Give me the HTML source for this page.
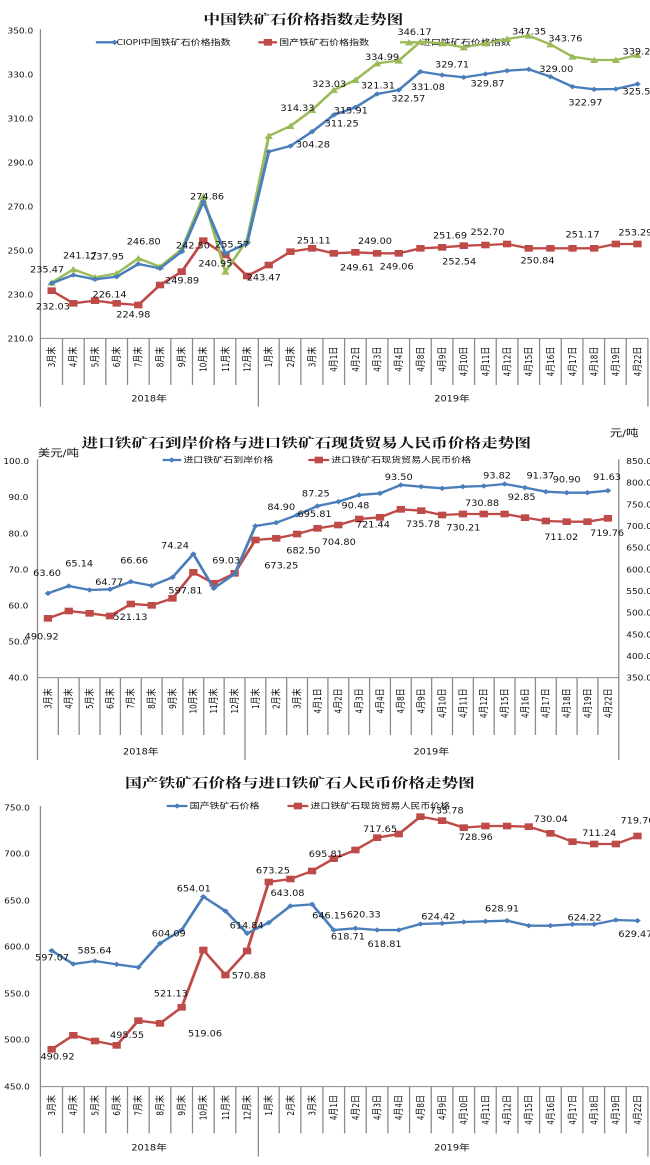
<!DOCTYPE html>
<html><head><meta charset="utf-8"><style>
body{margin:0;background:#fff;width:650px;height:1165px;overflow:hidden;position:relative}
svg{display:block;position:absolute;left:0}
text{font-family:"Liberation Sans Narrow","DejaVu Sans Condensed","Liberation Sans","Noto Sans CJK SC",sans-serif;fill:#111}
.t{font-family:"Liberation Serif","Noto Serif CJK SC","Noto Sans CJK SC",serif;font-weight:bold;font-size:40px;text-anchor:middle}
.l{font-size:26px;text-anchor:middle}
.k{font-size:24px}
.c{font-size:24px;text-anchor:end}
.ax{stroke:#888;stroke-width:3;fill:none}
.b{stroke:#4a7ebb;stroke-width:7;fill:none;marker-start:url(#md);marker-mid:url(#md);marker-end:url(#md)}
.r{stroke:#be4b48;stroke-width:7;fill:none;marker-start:url(#ms);marker-mid:url(#ms);marker-end:url(#ms)}
.g{stroke:#9bbb59;stroke-width:7;fill:none;marker-start:url(#mt);marker-mid:url(#mt);marker-end:url(#mt)}
</style></head><body>
<svg width="0" height="0" style="position:absolute"><defs>
<marker id="md" markerUnits="userSpaceOnUse" markerWidth="20" markerHeight="20" refX="10" refY="10"><path d="M10 2L18 10L10 18L2 10Z" fill="#4a7ebb"/></marker>
<marker id="ms" markerUnits="userSpaceOnUse" markerWidth="24" markerHeight="24" refX="12" refY="12"><rect x="2" y="2" width="20" height="20" fill="#be4b48"/></marker>
<marker id="mt" markerUnits="userSpaceOnUse" markerWidth="24" markerHeight="24" refX="12" refY="12"><path d="M12 2L22 21L2 21Z" fill="#9bbb59"/></marker>
</defs></svg>

<!-- Chart 1 -->
<svg style="top:0" width="650" height="420" viewBox="0 0 1560 1260" preserveAspectRatio="none">
<text class="t" x="728" y="72">中国铁矿石价格指数走势图</text>
<path class="ax" d="M97 88V1220M97 1015H1555M620 1155V1220M1555 1015V1220"/>
<path class="ax" d="M150 1015V1155M202 1015V1155M254 1015V1155M306 1015V1155M358 1015V1155M410 1015V1155M462 1015V1155M514 1015V1155M566 1015V1155M620 1015V1155M670 1015V1155M722 1015V1155M775 1015V1155M827 1015V1155M879 1015V1155M931 1015V1155M983 1015V1155M1035 1015V1155M1087 1015V1155M1139 1015V1155M1191 1015V1155M1243 1015V1155M1295 1015V1155M1347 1015V1155M1399 1015V1155M1451 1015V1155M1503 1015V1155"/>
<g class="k"><text x="18" y="100">350.0</text><text x="18" y="232">330.0</text><text x="18" y="364">310.0</text><text x="18" y="496">290.0</text><text x="18" y="628">270.0</text><text x="18" y="760">250.0</text><text x="18" y="892">230.0</text><text x="18" y="1024">210.0</text></g>
<path d="M230 127H275" stroke="#4a7ebb" stroke-width="7" marker-end="url(#md)"/><text class="k" x="280" y="135">CIOPI中国铁矿石价格指数</text>
<path d="M620 127H665" stroke="#be4b48" stroke-width="7"/><rect x="633" y="117" width="20" height="20" fill="#be4b48"/><text class="k" x="670" y="135">国产铁矿石价格指数</text>
<path d="M960 127H1005" stroke="#9bbb59" stroke-width="7"/><path d="M982 117L992 136L972 136Z" fill="#9bbb59"/><text class="k" x="1010" y="135">进口铁矿石价格指数</text>
<polyline class="r" points="124,872 176,910 228,902 280,910 332,915 384,855 436,815 488,722 541,765 593,828 645,795 697,755 749,745 801,760 853,757 905,760 957,760 1009,745 1061,742 1113,737 1165,735 1217,732 1269,745 1321,745 1374,745 1426,745 1478,732 1530,732"/>
<polyline class="g" points="124,848 176,808 228,832 280,820 332,775 384,800 436,748 488,590 541,815 593,720 645,408 697,378 749,330 801,270 853,240 905,190 957,182 1009,125 1061,130 1113,142 1165,130 1217,117 1269,107 1321,133 1374,170 1426,180 1478,180 1530,165"/>
<polyline class="b" points="124,850 176,825 228,838 280,830 332,792 384,805 436,755 488,605 541,760 593,730 645,455 697,438 749,395 801,345 853,322 905,282 957,270 1009,215 1061,225 1113,232 1165,222 1217,212 1269,208 1321,230 1374,260 1426,268 1478,267 1530,252"/>
<g class="l">
<text x="995" y="105">346.17</text><text x="1270" y="103">347.35</text><text x="1357" y="125">343.76</text><text x="1535" y="163">339.24</text><text x="917" y="180">334.99</text><text x="790" y="261">323.03</text><text x="714" y="333">314.33</text><text x="497" y="598">274.86</text><text x="345" y="733">246.80</text><text x="257" y="778">237.95</text><text x="192" y="776">241.17</text><text x="113" y="818">235.47</text><text x="463" y="745">242.50</text><text x="557" y="743">255.57</text><text x="517" y="800">240.95</text>
<text x="1085" y="203">329.71</text><text x="1335" y="216">329.00</text><text x="907" y="265">321.31</text><text x="1027" y="270">331.08</text><text x="1170" y="260">329.87</text><text x="980" y="305">322.57</text><text x="1535" y="283">325.58</text><text x="1405" y="316">322.97</text><text x="842" y="341">315.91</text><text x="820" y="380">311.25</text><text x="751" y="443">304.28</text>
<text x="753" y="730">251.11</text><text x="900" y="732">249.00</text><text x="1080" y="715">251.69</text><text x="1170" y="705">252.70</text><text x="1398" y="713">251.17</text><text x="1525" y="706">253.29</text><text x="857" y="811">249.61</text><text x="952" y="808">249.06</text><text x="1102" y="793">252.54</text><text x="1290" y="791">250.84</text><text x="633" y="841">243.47</text><text x="263" y="893">226.14</text><text x="127" y="928">232.03</text><text x="320" y="953">224.98</text><text x="437" y="850">249.89</text>
</g>
<g class="c">
<text transform="translate(132,1040) rotate(-90)">3月末</text><text transform="translate(184,1040) rotate(-90)">4月末</text><text transform="translate(236,1040) rotate(-90)">5月末</text><text transform="translate(288,1040) rotate(-90)">6月末</text><text transform="translate(340,1040) rotate(-90)">7月末</text><text transform="translate(392,1040) rotate(-90)">8月末</text><text transform="translate(444,1040) rotate(-90)">9月末</text><text transform="translate(496,1040) rotate(-90)">10月末</text><text transform="translate(549,1040) rotate(-90)">11月末</text><text transform="translate(601,1040) rotate(-90)">12月末</text><text transform="translate(653,1040) rotate(-90)">1月末</text><text transform="translate(705,1040) rotate(-90)">2月末</text><text transform="translate(757,1040) rotate(-90)">3月末</text><text transform="translate(809,1040) rotate(-90)">4月1日</text><text transform="translate(861,1040) rotate(-90)">4月2日</text><text transform="translate(913,1040) rotate(-90)">4月3日</text><text transform="translate(965,1040) rotate(-90)">4月4日</text><text transform="translate(1017,1040) rotate(-90)">4月8日</text><text transform="translate(1069,1040) rotate(-90)">4月9日</text><text transform="translate(1121,1040) rotate(-90)">4月10日</text><text transform="translate(1173,1040) rotate(-90)">4月11日</text><text transform="translate(1225,1040) rotate(-90)">4月12日</text><text transform="translate(1277,1040) rotate(-90)">4月15日</text><text transform="translate(1329,1040) rotate(-90)">4月16日</text><text transform="translate(1382,1040) rotate(-90)">4月17日</text><text transform="translate(1434,1040) rotate(-90)">4月18日</text><text transform="translate(1486,1040) rotate(-90)">4月19日</text><text transform="translate(1538,1040) rotate(-90)">4月22日</text>
</g>
<text class="l" x="358" y="1205">2018年</text><text class="l" x="1085" y="1205">2019年</text>
</svg>

<!-- Chart 2 -->
<svg style="top:420px" width="650" height="340" viewBox="0 0 1560 1020" preserveAspectRatio="none">
<text class="t" x="735" y="82">进口铁矿石到岸价格与进口铁矿石现货贸易人民币价格走势图</text>
<text class="l" x="140" y="110" style="font-size:30px">美元/吨</text><text class="l" x="1498" y="50" style="font-size:30px">元/吨</text>
<path class="ax" d="M90 118V1020M90 773H1485M1485 118V1020M588 945V1020"/>
<path class="ax" d="M140 773V945M190 773V945M240 773V945M289 773V945M339 773V945M389 773V945M439 773V945M489 773V945M538 773V945M588 773V945M638 773V945M688 773V945M738 773V945M787 773V945M837 773V945M887 773V945M937 773V945M987 773V945M1036 773V945M1086 773V945M1136 773V945M1186 773V945M1236 773V945M1285 773V945M1335 773V945M1385 773V945M1435 773V945"/>
<g class="k"><text x="8" y="132">100.0</text><text x="20" y="240">90.0</text><text x="20" y="349">80.0</text><text x="20" y="457">70.0</text><text x="20" y="565">60.0</text><text x="20" y="674">50.0</text><text x="20" y="782">40.0</text>
<text x="1503" y="132">850.0</text><text x="1503" y="197">800.0</text><text x="1503" y="262">750.0</text><text x="1503" y="327">700.0</text><text x="1503" y="392">650.0</text><text x="1503" y="457">600.0</text><text x="1503" y="522">550.0</text><text x="1503" y="587">500.0</text><text x="1503" y="652">450.0</text><text x="1503" y="717">400.0</text><text x="1503" y="782">350.0</text></g>
<path d="M390 120H435" stroke="#4a7ebb" stroke-width="7"/><path d="M412 112L420 120L412 128L404 120Z" fill="#4a7ebb"/><text class="k" x="440" y="128">进口铁矿石到岸价格</text>
<path d="M740 120H790" stroke="#be4b48" stroke-width="7"/><rect x="755" y="110" width="20" height="20" fill="#be4b48"/><text class="k" x="795" y="128">进口铁矿石现货贸易人民币价格</text>
<polyline class="r" points="115,595 165,573 215,580 264,588 314,552 364,556 414,535 464,457 513,490 563,460 613,360 663,355 713,342 762,325 812,315 862,297 912,292 962,268 1011,272 1061,285 1111,282 1161,282 1211,282 1260,293 1310,303 1360,305 1410,305 1459,295"/>
<polyline class="b" points="115,520 165,498 215,510 264,508 314,485 364,497 414,472 464,402 513,505 563,462 613,318 663,308 713,285 762,258 812,245 862,225 912,220 962,195 1011,200 1061,205 1111,200 1161,198 1211,192 1260,203 1310,215 1360,218 1410,218 1459,212"/>
<g class="l">
<text x="113" y="468">63.60</text><text x="190" y="440">65.14</text><text x="262" y="495">64.77</text><text x="322" y="431">66.66</text><text x="420" y="385">74.24</text><text x="543" y="431">69.03</text><text x="675" y="270">84.90</text><text x="758" y="230">87.25</text><text x="853" y="266">90.48</text><text x="957" y="180">93.50</text><text x="1193" y="176">93.82</text><text x="1297" y="176">91.37</text><text x="1252" y="240">92.85</text><text x="1360" y="188">90.90</text><text x="1457" y="180">91.63</text>
<text x="100" y="658">490.92</text><text x="313" y="600">521.13</text><text x="445" y="521">597.81</text><text x="675" y="446">673.25</text><text x="728" y="401">682.50</text><text x="755" y="291">695.81</text><text x="813" y="375">704.80</text><text x="895" y="323">721.44</text><text x="1015" y="321">735.78</text><text x="1112" y="331">730.21</text><text x="1157" y="258">730.88</text><text x="1347" y="360">711.02</text><text x="1457" y="348">719.76</text>
</g>
<g class="c">
<text transform="translate(123,805) rotate(-90)">3月末</text><text transform="translate(173,805) rotate(-90)">4月末</text><text transform="translate(223,805) rotate(-90)">5月末</text><text transform="translate(272,805) rotate(-90)">6月末</text><text transform="translate(322,805) rotate(-90)">7月末</text><text transform="translate(372,805) rotate(-90)">8月末</text><text transform="translate(422,805) rotate(-90)">9月末</text><text transform="translate(472,805) rotate(-90)">10月末</text><text transform="translate(521,805) rotate(-90)">11月末</text><text transform="translate(571,805) rotate(-90)">12月末</text><text transform="translate(621,805) rotate(-90)">1月末</text><text transform="translate(671,805) rotate(-90)">2月末</text><text transform="translate(721,805) rotate(-90)">3月末</text><text transform="translate(770,805) rotate(-90)">4月1日</text><text transform="translate(820,805) rotate(-90)">4月2日</text><text transform="translate(870,805) rotate(-90)">4月3日</text><text transform="translate(920,805) rotate(-90)">4月4日</text><text transform="translate(970,805) rotate(-90)">4月8日</text><text transform="translate(1019,805) rotate(-90)">4月9日</text><text transform="translate(1069,805) rotate(-90)">4月10日</text><text transform="translate(1119,805) rotate(-90)">4月11日</text><text transform="translate(1169,805) rotate(-90)">4月12日</text><text transform="translate(1219,805) rotate(-90)">4月15日</text><text transform="translate(1268,805) rotate(-90)">4月16日</text><text transform="translate(1318,805) rotate(-90)">4月17日</text><text transform="translate(1368,805) rotate(-90)">4月18日</text><text transform="translate(1418,805) rotate(-90)">4月19日</text><text transform="translate(1467,805) rotate(-90)">4月22日</text>
</g>
<text class="l" x="338" y="1003">2018年</text><text class="l" x="1035" y="1003">2019年</text>
</svg>

<!-- Chart 3 -->
<svg style="top:760px" width="650" height="405" viewBox="0 0 1560 1215" preserveAspectRatio="none">
<text class="t" x="720" y="82">国产铁矿石价格与进口铁矿石人民币价格走势图</text>
<path class="ax" d="M97 138V1190M97 980H1555M620 1120V1190M1555 980V1190"/>
<path class="ax" d="M150 980V1120M202 980V1120M254 980V1120M306 980V1120M358 980V1120M410 980V1120M462 980V1120M514 980V1120M566 980V1120M620 980V1120M670 980V1120M722 980V1120M775 980V1120M827 980V1120M879 980V1120M931 980V1120M983 980V1120M1035 980V1120M1087 980V1120M1139 980V1120M1191 980V1120M1243 980V1120M1295 980V1120M1347 980V1120M1399 980V1120M1451 980V1120M1503 980V1120"/>
<g class="k"><text x="10" y="151">750.0</text><text x="10" y="290">700.0</text><text x="10" y="430">650.0</text><text x="10" y="569">600.0</text><text x="10" y="709">550.0</text><text x="10" y="848">500.0</text><text x="10" y="989">450.0</text></g>
<path d="M400 138H450" stroke="#4a7ebb" stroke-width="7"/><path d="M425 130L433 138L425 146L417 138Z" fill="#4a7ebb"/><text class="k" x="455" y="146">国产铁矿石价格</text>
<path d="M690 138H740" stroke="#be4b48" stroke-width="7"/><rect x="705" y="128" width="20" height="20" fill="#be4b48"/><text class="k" x="745" y="146">进口铁矿石现货贸易人民币价格</text>
<polyline class="r" points="124,868 176,826 228,843 280,856 332,782 384,790 436,742 488,570 541,645 593,573 645,366 697,357 749,333 801,296 853,270 905,233 957,222 1009,170 1061,182 1113,203 1165,198 1217,198 1269,200 1321,220 1374,245 1426,252 1478,252 1530,228"/>
<polyline class="b" points="124,572 176,612 228,603 280,613 332,622 384,550 436,510 488,410 541,453 593,520 645,488 697,438 749,433 801,510 853,505 905,510 957,510 1009,492 1061,490 1113,486 1165,484 1217,482 1269,497 1321,497 1374,493 1426,493 1478,480 1530,482"/>
<g class="l">
<text x="125" y="601">597.07</text><text x="227" y="580">585.64</text><text x="405" y="530">604.09</text><text x="465" y="395">654.01</text><text x="592" y="506">614.84</text><text x="690" y="408">643.08</text><text x="790" y="475">646.15</text><text x="873" y="473">620.33</text><text x="835" y="538">618.71</text><text x="923" y="561">618.81</text><text x="1052" y="478">624.42</text><text x="1205" y="455">628.91</text><text x="1403" y="481">624.22</text><text x="1525" y="531">629.47</text>
<text x="138" y="898">490.92</text><text x="305" y="834">495.55</text><text x="410" y="710">521.13</text><text x="492" y="830">519.06</text><text x="597" y="656">570.88</text><text x="655" y="341">673.25</text><text x="782" y="291">695.81</text><text x="912" y="216">717.65</text><text x="1072" y="160">735.78</text><text x="1142" y="240">728.96</text><text x="1322" y="186">730.04</text><text x="1438" y="228">711.24</text><text x="1530" y="191">719.76</text>
</g>
<g class="c">
<text transform="translate(132,1005) rotate(-90)">3月末</text><text transform="translate(184,1005) rotate(-90)">4月末</text><text transform="translate(236,1005) rotate(-90)">5月末</text><text transform="translate(288,1005) rotate(-90)">6月末</text><text transform="translate(340,1005) rotate(-90)">7月末</text><text transform="translate(392,1005) rotate(-90)">8月末</text><text transform="translate(444,1005) rotate(-90)">9月末</text><text transform="translate(496,1005) rotate(-90)">10月末</text><text transform="translate(549,1005) rotate(-90)">11月末</text><text transform="translate(601,1005) rotate(-90)">12月末</text><text transform="translate(653,1005) rotate(-90)">1月末</text><text transform="translate(705,1005) rotate(-90)">2月末</text><text transform="translate(757,1005) rotate(-90)">3月末</text><text transform="translate(809,1005) rotate(-90)">4月1日</text><text transform="translate(861,1005) rotate(-90)">4月2日</text><text transform="translate(913,1005) rotate(-90)">4月3日</text><text transform="translate(965,1005) rotate(-90)">4月4日</text><text transform="translate(1017,1005) rotate(-90)">4月8日</text><text transform="translate(1069,1005) rotate(-90)">4月9日</text><text transform="translate(1121,1005) rotate(-90)">4月10日</text><text transform="translate(1173,1005) rotate(-90)">4月11日</text><text transform="translate(1225,1005) rotate(-90)">4月12日</text><text transform="translate(1277,1005) rotate(-90)">4月15日</text><text transform="translate(1329,1005) rotate(-90)">4月16日</text><text transform="translate(1382,1005) rotate(-90)">4月17日</text><text transform="translate(1434,1005) rotate(-90)">4月18日</text><text transform="translate(1486,1005) rotate(-90)">4月19日</text><text transform="translate(1538,1005) rotate(-90)">4月22日</text>
</g>
<text class="l" x="358" y="1172">2018年</text><text class="l" x="1085" y="1172">2019年</text>
</svg>
</body></html>
